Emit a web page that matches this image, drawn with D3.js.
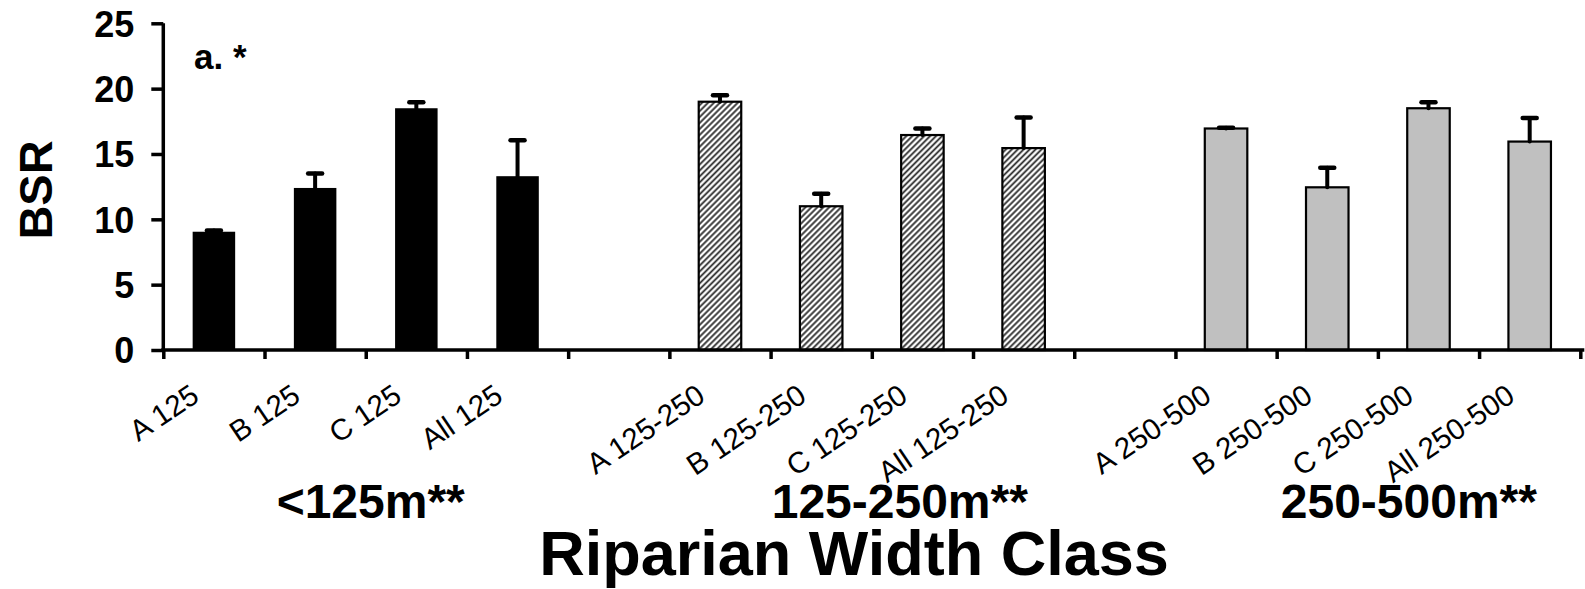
<!DOCTYPE html>
<html><head><meta charset="utf-8">
<script src="https://cdn.jsdelivr.net/npm/d3@7"></script>
<style>
html,body{margin:0;padding:0;background:#fff;}
svg{display:block;font-family:"Liberation Sans",Arial,sans-serif;}
</style></head>
<body>
<svg id="chart" width="1585" height="589"></svg>
<script>
const categories = ["A 125","B 125","C 125","All 125","","A 125-250","B 125-250","C 125-250","All 125-250","","A 250-500","B 250-500","C 250-500","All 250-500"];
const values = [9.05,12.4,18.5,13.3,null,19.0,11.0,16.45,15.45,null,16.95,12.45,18.5,15.95];
const errors = [0.1,1.1,0.45,2.75,null,0.5,0.95,0.5,2.35,null,0.06,1.5,0.45,1.8];
const groups = [0,0,0,0,null,1,1,1,1,null,2,2,2,2];
const groupLabels = ["<125m**","125-250m**","250-500m**"];
const yTicks = [0,5,10,15,20,25];
const yTitle = "BSR";
const xTitle = "Riparian Width Class";
const panelLabel = "a. *";

const svg = d3.select("#chart");
const x0 = 163.3, x1 = 1580.3, yBase = 350, yTop = 23.3;
const x = d3.scaleBand().domain(d3.range(categories.length)).range([x0, x1]).padding(0);
const edge = d3.scaleLinear().domain([0, categories.length]).range([x0, x1]);
const y = d3.scaleLinear().domain([0, 25]).range([yBase, yTop]);

const defs = svg.append("defs");
const pat = defs.append("pattern").attr("id","hatch").attr("patternUnits","userSpaceOnUse")
  .attr("width",4.2).attr("height",4.2).attr("patternTransform","rotate(45)");
pat.append("rect").attr("width",4.2).attr("height",4.2).attr("fill","#fff");
pat.append("line").attr("x1",2.1).attr("y1",0).attr("x2",2.1).attr("y2",4.2).attr("stroke","#2a2a2a").attr("stroke-width",1.8);

const fills = ["#000","url(#hatch)","#c0c0c0"];
const bw = x.bandwidth()*0.42;

const data = categories.map((c,i)=>({c,i,v:values[i],e:errors[i],g:groups[i]})).filter(d=>d.v!=null);

// bars
svg.append("g").selectAll("rect").data(data).join("rect")
  .attr("x", d=>x(d.i)+x.bandwidth()/2-bw/2)
  .attr("y", d=>y(d.v))
  .attr("width", bw)
  .attr("height", d=>y(0)-y(d.v))
  .attr("fill", d=>fills[d.g])
  .attr("stroke", d=>d.g===0?"none":"#000")
  .attr("stroke-width", 2.2);

// error bars
const eg = svg.append("g").attr("stroke","#000").attr("stroke-linecap","round");
eg.selectAll("line.v").data(data).join("line").attr("class","v")
  .attr("x1", d=>x(d.i)+x.bandwidth()/2).attr("x2", d=>x(d.i)+x.bandwidth()/2)
  .attr("y1", d=>y(d.v)).attr("y2", d=>y(d.v+d.e)).attr("stroke-width",4);
eg.selectAll("line.c").data(data).join("line").attr("class","c")
  .attr("x1", d=>x(d.i)+x.bandwidth()/2-7).attr("x2", d=>x(d.i)+x.bandwidth()/2+7)
  .attr("y1", d=>y(d.v+d.e)).attr("y2", d=>y(d.v+d.e)).attr("stroke-width",4.5);

// y axis
const ya = svg.append("g").attr("transform",`translate(${x0},0)`)
  .call(d3.axisLeft(y).tickValues(yTicks).tickSize(12).tickPadding(17).tickFormat(d3.format("d")));
ya.select(".domain").attr("stroke","#000").attr("stroke-width",3.5).attr("d",`M0,${yTop}V${yBase}`);
ya.selectAll(".tick line").attr("stroke","#000").attr("stroke-width",3.5);
ya.selectAll(".tick text").attr("font-size",36).attr("font-weight","bold").attr("fill","#000")
  .attr("font-family","'Liberation Sans',Arial,sans-serif").attr("dy","0.36em");

// x axis
const xa = svg.append("g").attr("transform",`translate(0,${yBase})`)
  .call(d3.axisBottom(edge).tickValues(d3.range(categories.length+1)).tickSize(9).tickFormat(""));
xa.select(".domain").attr("stroke","#000").attr("stroke-width",3.5).attr("d",`M${x0-2},0H${x1+4}`);
xa.selectAll(".tick line").attr("stroke","#000").attr("stroke-width",3.5);

// category labels
svg.append("g").selectAll("text").data(categories.map((c,i)=>({c,i})).filter(d=>d.c))
  .join("text")
  .attr("transform", d=>`translate(${x(d.i)+x.bandwidth()/2-13},${yBase+50}) rotate(-34)`)
  .attr("text-anchor","end")
  .attr("font-size",29.5)
  .attr("fill","#000")
  .text(d=>d.c);

// group labels
const groupOffsets = [5, 28, 31];
svg.append("g").selectAll("text").data(groupLabels).join("text")
  .attr("x", (d,k)=>{ const idx = categories.map((c,i)=>i).filter(i=>groups[i]===k);
     return (x(idx[0]) + x(idx[idx.length-1]) + x.bandwidth())/2 + groupOffsets[k]; })
  .attr("y", 518)
  .attr("text-anchor","middle").attr("font-size",48).attr("font-weight","bold").attr("fill","#000")
  .text(d=>d);

// x title
svg.append("text").attr("x",854).attr("y",575).attr("text-anchor","middle")
  .attr("font-size",63).attr("font-weight","bold").attr("fill","#000").text(xTitle);

// y title
svg.append("text").attr("transform","translate(52,190) rotate(-90)").attr("text-anchor","middle")
  .attr("font-size",47).attr("font-weight","bold").attr("fill","#000").text(yTitle);

// panel label
svg.append("text").attr("x",194).attr("y",69).attr("font-size",35).attr("font-weight","bold")
  .attr("fill","#000").text(panelLabel);
</script>
</body></html>
